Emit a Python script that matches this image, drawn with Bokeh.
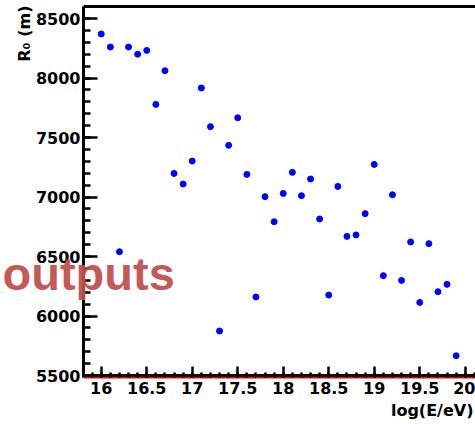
import math
import numpy as np
from bokeh.plotting import figure
from bokeh.models import FixedTicker, Label, Range1d, NumeralTickFormatter, LinearAxis
from bokeh.embed import file_html
from bokeh.resources import INLINE

# ---- data ----
log_e = [16.0, 16.1, 16.2, 16.3, 16.4, 16.5, 16.6, 16.7, 16.8, 16.9,
         17.0, 17.1, 17.2, 17.3, 17.4, 17.5, 17.6, 17.7, 17.8, 17.9,
         18.0, 18.1, 18.2, 18.3, 18.4, 18.5, 18.6, 18.7, 18.8, 18.9,
         19.0, 19.1, 19.2, 19.3, 19.4, 19.5, 19.6, 19.7, 19.8, 19.9]
r0 = [8370, 8260, 6540, 8260, 8200, 8232, 7778, 8061, 7198, 7109,
      7302, 7916, 7591, 5874, 7434, 7666, 7190, 6160, 7003, 6792,
      7030, 7207, 7011, 7151, 6815, 6176, 7089, 6669, 6681, 6860,
      7274, 6339, 7019, 6299, 6622, 6114, 6608, 6204, 6266, 5666]

x_major = [16, 16.5, 17, 17.5, 18, 18.5, 19, 19.5, 20]
y_major = [5500, 6000, 6500, 7000, 7500, 8000, 8500]
baseline_level = 5500
frame_top = 8600
x_title = "log(E/eV)"
y_title = "R\u2080 (m)"
watermark = "outputs"

# ---- layout (pixel scale) ----
W, H = 475, 424
axis_px = 83          # canvas x of the y axis
base_px = 375         # canvas y of the 5500 level
px_per_x = 91.0
px_per_y = 0.119
x_axis0 = 15.805      # x value where the y axis sits

xs = x_axis0 - axis_px / px_per_x
xe = x_axis0 + (W - axis_px) / px_per_x
ytop = baseline_level + base_px / px_per_y
ybot = baseline_level - (H - base_px) / px_per_y
y_red = baseline_level - 2 / px_per_y     # red axis line just under the 5500 line


def xd(cx):
    return xs + cx / px_per_x


def yd(cy):
    return ytop - cy / px_per_y


p = figure(width=W, height=H, output_backend="svg", toolbar_location=None,
           x_range=Range1d(xs, xe), y_range=Range1d(ybot, ytop),
           min_border=0)
p.outline_line_color = None
p.grid.visible = False
p.background_fill_color = "white"
p.border_fill_color = "white"

FONT = "DejaVu Sans"

xminor = [round(v, 2) for v in np.arange(15.9, 20.15, 0.1)]
yminor = [int(v) for v in np.arange(5500, 8600, 100)]
p.xaxis.ticker = FixedTicker(ticks=x_major, minor_ticks=xminor)
p.yaxis.ticker = FixedTicker(ticks=y_major, minor_ticks=yminor)
p.xaxis.formatter = NumeralTickFormatter(format="0.[0]")
p.yaxis.formatter = NumeralTickFormatter(format="0")

for ax in (p.xaxis[0], p.yaxis[0]):
    ax.axis_line_color = "black"
    ax.axis_line_width = 3
    ax.major_tick_line_color = "black"
    ax.minor_tick_line_color = "black"
    ax.major_tick_line_width = 2.5
    ax.minor_tick_line_width = 2.5
    ax.major_tick_out = 0
    ax.minor_tick_out = 0
    ax.major_label_text_font = FONT
    ax.major_label_text_font_style = "bold"
    ax.major_label_text_font_size = "16px"
    ax.major_label_text_color = "black"

p.yaxis.fixed_location = x_axis0
p.yaxis.bounds = (y_red, frame_top)
p.xaxis.fixed_location = y_red
p.xaxis.bounds = (x_axis0, xe)
p.xaxis.axis_line_color = "red"
p.xaxis.axis_line_width = 2
p.xaxis.major_tick_in = 11
p.xaxis.minor_tick_in = 5
p.yaxis.major_tick_in = 14
p.yaxis.minor_tick_in = 7
p.xaxis.major_label_standoff = 4
p.yaxis.major_label_standoff = 3


def frame_line(loc, side):
    ax = LinearAxis(fixed_location=loc, bounds=(x_axis0, xe),
                    ticker=FixedTicker(ticks=[]), axis_line_color="black",
                    axis_line_width=3, major_label_text_font_size="0px",
                    major_tick_in=0, major_tick_out=0, minor_tick_in=0, minor_tick_out=0)
    p.add_layout(ax, side)


frame_line(baseline_level, "below")   # black line just above the red axis line
frame_line(frame_top, "above")        # top frame line

p.scatter(log_e, r0, size=6, color="#0000ff", line_color="#0000ff")

p.add_layout(Label(x=xd(473), y=yd(410), text=x_title,
                   text_align="right", text_baseline="alphabetic",
                   text_font=FONT, text_font_style="bold", text_font_size="16px",
                   text_color="black"))
p.add_layout(Label(x=xd(24), y=yd(5), text=y_title,
                   angle=math.pi / 2, text_align="right", text_baseline="middle",
                   text_font=FONT, text_font_style="bold", text_font_size="16px",
                   text_color="black"))
p.add_layout(Label(x=xd(2), y=yd(273), text=watermark,
                   text_align="left", text_baseline="alphabetic", level="overlay",
                   text_font="Liberation Sans", text_font_style="bold",
                   text_font_size="47px", text_color="#c0504d", text_alpha=0.95))

open("out.html", "w").write(file_html(p, INLINE))
